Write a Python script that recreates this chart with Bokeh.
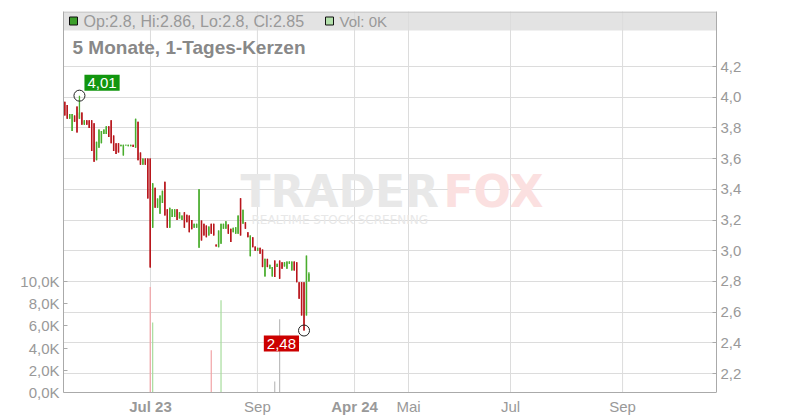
from bokeh.plotting import figure
from bokeh.models import Range1d, LinearAxis, FixedTicker, Label, ColumnDataSource, Span
from bokeh.embed import file_html
from bokeh.resources import INLINE

# ---------------- data ----------------
opens = [3.97, 3.95, 3.86, 3.78, 3.88, 3.94, 3.86, 3.90, 3.82, 3.85,
         3.85, 3.85, 3.83, 3.59, 3.67, 3.70, 3.76, 3.76, 3.81, 3.85,
         3.75, 3.70, 3.70, 3.68, 3.62, 3.685, 3.68, 3.68, 3.69, 3.67,
         3.84, 3.64, 3.56, 3.60, 3.60, 3.60, 3.15, 3.41, 3.28, 3.24,
         3.31, 3.45, 3.27, 3.15, 3.22, 3.22, 3.27, 3.21, 3.20, 3.25,
         3.234, 3.23, 3.20, 3.15, 3.15, 3.02, 3.197, 3.175, 3.164, 3.099,
         3.175, 3.175, 3.04, 3.023, 3.045, 3.143, 3.143, 3.17, 3.143, 3.12,
         3.11, 3.11, 3.342, 3.175, 3.186, 3.12, 2.964, 3.088, 3.027, 3.00,
         3.019, 3.008, 2.832, 2.947, 2.882, 2.832, 2.936, 2.893, 2.936, 2.925,
         2.897, 2.882, 2.915, 2.871, 2.93, 2.925, 2.795, 2.795, 2.795, 2.578,
         2.80]
closes = [3.88, 3.86, 3.89, 3.89, 3.84, 3.77, 3.90, 3.82, 3.85, 3.82,
          3.80, 3.65, 3.58, 3.71, 3.79, 3.78, 3.79, 3.81, 3.74, 3.70,
          3.65, 3.63, 3.64, 3.69, 3.69, 3.69, 3.69, 3.69, 3.675, 3.86,
          3.59, 3.56, 3.60, 3.56, 3.34, 2.89, 3.44, 3.28, 3.34, 3.36,
          3.39, 3.23, 3.15, 3.28, 3.27, 3.27, 3.20, 3.25, 3.23, 3.15,
          3.186, 3.12, 3.14, 3.175, 3.175, 3.40, 3.066, 3.099, 3.088, 3.158,
          3.11, 3.099, 3.027, 3.132, 3.175, 3.175, 3.192, 3.11, 3.056, 3.149,
          3.153, 3.23, 3.099, 3.267, 3.143, 3.088, 3.099, 3.023, 3.00, 3.02,
          2.98, 2.893, 2.947, 2.893, 2.908, 2.893, 2.828, 2.915, 2.817, 2.882,
          2.925, 2.93, 2.93, 2.93, 2.871, 2.795, 2.687, 2.578, 2.48, 2.968,
          2.85]
highs = [max(o, c) for o, c in zip(opens, closes)]
lows = [min(o, c) for o, c in zip(opens, closes)]
highs[6] = 4.01
highs[100] = 2.86

volumes = [0] * 101
vol_days = [35, 36, 60, 64, 86, 88]
vol_values = [9500, 6300, 3800, 8300, 1000, 6600]
for d, v in zip(vol_days, vol_values):
    volumes[d] = v
vol_neutral = [86, 88]

price_ticks = [2.2, 2.4, 2.6, 2.8, 3.0, 3.2, 3.4, 3.6, 3.8, 4.0, 4.2]
price_labels = ["2,2", "2,4", "2,6", "2,8", "3,0", "3,2", "3,4", "3,6", "3,8", "4,0", "4,2"]
vol_ticks = [0, 2000, 4000, 6000, 8000, 10000]
vol_labels = ["0,0K", "2,0K", "4,0K", "6,0K", "8,0K", "10,0K"]
date_ticks = [35.1, 78.9, 118.7, 140.8, 182.6, 228.5]
date_labels = ["Jul 23", "Sep", "Apr 24", "Mai", "Jul", "Sep"]
date_bold = [True, False, True, False, False, False]

# ---------------- layout helpers (page pixels -> data) ----------------
PX0, PXS = 64.3, 2.441          # px of first candle, px per candle
def xd(px):
    return (px - PX0) / PXS
def yd(py):
    return 4.2 - (py - 66) / 153.5
VPP = 10000 / 111.0             # volume units per px (0 at y=392)
def vd(py):
    return (392 - py) * VPP

FL, FR, FT, FB = 63, 716, 11, 420   # frame edges
X0, X1 = xd(FL), xd(FR)
Y0, Y1 = yd(FB), yd(FT)
YAX = yd(392)                        # price at the date axis line

FONT = "Liberation Sans"
RED, GREEN = "#b8161c", "#4aad2e"
AXC = "#aaaaaa"
GRC = "#dcdcdc"
TXC = "#999999"

p = figure(width=800, height=420, output_backend="svg", toolbar_location=None,
           x_range=Range1d(X0, X1), y_range=Range1d(Y0, Y1),
           y_axis_location="right", x_axis_location=None,
           min_border_left=FL, min_border_right=800 - FR, min_border_top=FT,
           min_border_bottom=420 - FB)
p.extra_y_ranges = {"vol": Range1d(vd(FB), vd(FT))}

p.outline_line_color = None
p.background_fill_color = "white"
p.border_fill_color = "white"
p.xgrid.visible = False
p.ygrid.grid_line_color = GRC

# price axis (right)
ya = p.yaxis[0]
ya.ticker = FixedTicker(ticks=price_ticks)
ya.major_label_overrides = {t: l for t, l in zip(price_ticks, price_labels)}
ya.bounds = (YAX, Y1)

# volume axis (left)
va = LinearAxis(y_range_name="vol", ticker=FixedTicker(ticks=vol_ticks))
va.major_label_overrides = {t: l for t, l in zip(vol_ticks, vol_labels)}
va.bounds = (0, vd(FT))
p.add_layout(va, "left")

for ax in [ya, va]:
    ax.axis_line_color = AXC
    ax.major_tick_line_color = AXC
    ax.major_tick_in = 4
    ax.major_tick_out = 0
    ax.minor_tick_line_color = None
    ax.major_label_text_color = TXC
    ax.major_label_text_font = FONT
    ax.major_label_text_font_size = "15px"
    ax.major_label_standoff = 4

# legend bar background (below everything)
p.quad(left=[X0], right=[X1], bottom=[yd(30)], top=[Y1], fill_color="#e3e3e3",
       line_color=None, level="image")

# vertical date grid lines, date axis line, top border
p.segment(x0=date_ticks, x1=date_ticks, y0=[YAX] * len(date_ticks), y1=[Y1] * len(date_ticks),
          line_color=GRC, line_width=1, level="underlay")
p.add_layout(Span(location=YAX, dimension="width", line_color=AXC, line_width=1))
p.add_layout(Span(location=yd(11.5), dimension="width", line_color="#bbbbbb", line_width=1))

# date labels
for t, l, b in zip(date_ticks, date_labels, date_bold):
    p.text(x=[t], y=[yd(406)], text=[l], text_align="center", text_baseline="middle",
           text_font={"value": FONT}, text_font_size="15px",
           text_font_style="bold" if b else "normal", text_color=TXC)

# watermark
p.text(x=[xd(240)], y=[yd(191)], text=["TRADER"], text_font={"value": "DejaVu Sans"},
       text_font_style="bold", text_font_size="44px", text_color="#e8e8e8",
       text_baseline="middle", text_align="left")
p.text(x=[xd(443)], y=[yd(191)], text=["FOX"], text_font={"value": "DejaVu Sans"},
       text_font_style="bold", text_font_size="44px", text_color="#fbe0e0",
       text_baseline="middle", text_align="left")
p.text(x=[xd(251)], y=[yd(219)], text=["REALTIME STOCK SCREENING"],
       text_font={"value": "DejaVu Sans"}, text_font_size="12px", text_color="#e8e8e8",
       text_baseline="middle", text_align="left")

# volume bars
idx = list(range(len(opens)))
vcol = []
for i in idx:
    if i in vol_neutral:
        vcol.append("#bdbdbd")
    elif closes[i] >= opens[i]:
        vcol.append("#a6dc9c")
    else:
        vcol.append("#f2a3a6")
vsrc = ColumnDataSource(dict(x=idx, v=volumes, z=[0] * len(idx), c=vcol))
p.segment(x0="x", x1="x", y0="z", y1="v", line_color="c", line_width=1.2,
          source=vsrc, y_range_name="vol")

# candles
ccol = [GREEN if c >= o else RED for o, c in zip(opens, closes)]
csrc = ColumnDataSource(dict(x=idx, o=opens, c=closes, h=highs, l=lows, col=ccol))
p.segment(x0="x", x1="x", y0="l", y1="h", line_color="col", line_width=1.3, source=csrc)
p.vbar(x="x", bottom="o", top="c", width=0.55, fill_color="col", line_color=None, source=csrc)

# high / low markers
imax = max(idx, key=lambda i: highs[i])
imin = min(idx, key=lambda i: lows[i])
p.scatter(x=[imax, imin], y=[highs[imax], lows[imin]], size=11, marker="circle",
          fill_color=None, line_color="#222222", line_width=1)
p.add_layout(Label(x=imax, y=highs[imax], x_offset=5, y_offset=13,
                   text=f"{highs[imax]:.2f}".replace(".", ","), text_align="left",
                   text_baseline="middle", text_font=FONT, text_font_size="15px",
                   text_color="white", background_fill_color="#12960f", padding=3))
p.add_layout(Label(x=imin, y=lows[imin], x_offset=-5, y_offset=-13,
                   text=f"{lows[imin]:.2f}".replace(".", ","), text_align="right",
                   text_baseline="middle", text_font=FONT, text_font_size="15px",
                   text_color="white", background_fill_color="#cc0000", padding=3))

# title and legend line
p.add_layout(Label(x=xd(72), y=yd(47), text="5 Monate, 1-Tages-Kerzen", text_align="left",
                   text_baseline="middle", text_font=FONT, text_font_size="19px",
                   text_font_style="bold", text_color="#888888"))
last = len(opens) - 1
ohlc_text = "Op:%g, Hi:%g, Lo:%g, Cl:%g" % (opens[last], highs[last], lows[last], closes[last])
p.scatter(x=[xd(73), xd(329)], y=[yd(20.5), yd(20.5)], marker="square", size=8,
          fill_color=["#3c9f2a", "#b3e0ab"], line_color="#111111", line_width=1)
p.add_layout(Label(x=xd(83), y=yd(21), text=ohlc_text, text_align="left",
                   text_baseline="middle", text_font=FONT, text_font_size="16px",
                   text_color=TXC))
p.add_layout(Label(x=xd(339), y=yd(21), text="Vol: %dK" % (volumes[last] // 1000),
                   text_align="left", text_baseline="middle", text_font=FONT,
                   text_font_size="15px", text_color=TXC))

open("out.html", "w").write(file_html(p, INLINE))
